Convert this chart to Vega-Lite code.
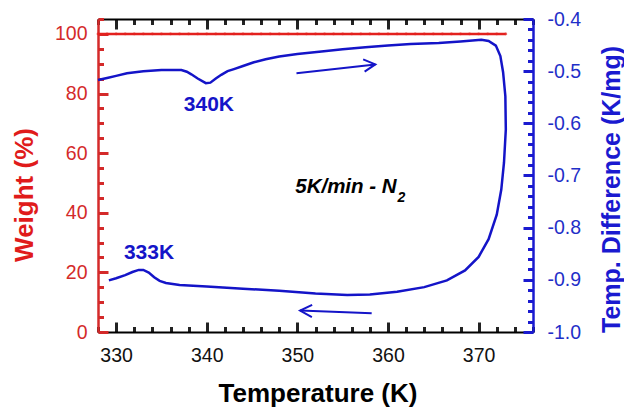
{
  "$schema": "https://vega.github.io/schema/vega-lite/v6.json",
  "width": 435,
  "height": 313,
  "autosize": {"type": "none"},
  "padding": {"left": 98, "top": 19, "right": 91, "bottom": 76},
  "config": {
    "view": {"stroke": null},
    "axis": {"grid": false, "labelFont": "Liberation Sans", "titleFont": "Liberation Sans", "labelOverlap": false, "labelFlush": false},
    "text": {"font": "Liberation Sans"}
  },
  "datasets": {
    "weight": [
      {"T": 328, "w": 100}, {"T": 329, "w": 100}, {"T": 330, "w": 100}, {"T": 331, "w": 100}, {"T": 332, "w": 100},
      {"T": 333, "w": 100}, {"T": 334, "w": 100}, {"T": 335, "w": 100}, {"T": 336, "w": 100}, {"T": 337, "w": 100},
      {"T": 338, "w": 100}, {"T": 339, "w": 100}, {"T": 340, "w": 100}, {"T": 341, "w": 100}, {"T": 342, "w": 100},
      {"T": 343, "w": 100}, {"T": 344, "w": 100}, {"T": 345, "w": 100}, {"T": 346, "w": 100}, {"T": 347, "w": 100},
      {"T": 348, "w": 100}, {"T": 349, "w": 100}, {"T": 350, "w": 100}, {"T": 351, "w": 100}, {"T": 352, "w": 100},
      {"T": 353, "w": 100}, {"T": 354, "w": 100}, {"T": 355, "w": 100}, {"T": 356, "w": 100}, {"T": 357, "w": 100},
      {"T": 358, "w": 100}, {"T": 359, "w": 100}, {"T": 360, "w": 100}, {"T": 361, "w": 100}, {"T": 362, "w": 100},
      {"T": 363, "w": 100}, {"T": 364, "w": 100}, {"T": 365, "w": 100}, {"T": 366, "w": 100}, {"T": 367, "w": 100},
      {"T": 368, "w": 100}, {"T": 369, "w": 100}, {"T": 370, "w": 100}, {"T": 371, "w": 100}, {"T": 372, "w": 100},
      {"T": 373, "w": 100}
    ],
    "dtg": [
      {"i": 1, "T": 328.0, "d": -0.517}, {"i": 2, "T": 329.0, "d": -0.513}, {"i": 3, "T": 330.0, "d": -0.509},
      {"i": 4, "T": 331.2, "d": -0.504}, {"i": 5, "T": 333.0, "d": -0.500}, {"i": 6, "T": 335.0, "d": -0.498},
      {"i": 7, "T": 337.2, "d": -0.498}, {"i": 8, "T": 337.8, "d": -0.501}, {"i": 9, "T": 338.3, "d": -0.506},
      {"i": 10, "T": 339.0, "d": -0.514}, {"i": 11, "T": 339.9, "d": -0.523}, {"i": 12, "T": 340.4, "d": -0.522},
      {"i": 13, "T": 341.0, "d": -0.514}, {"i": 14, "T": 341.6, "d": -0.507}, {"i": 15, "T": 342.3, "d": -0.500},
      {"i": 16, "T": 343.0, "d": -0.496}, {"i": 17, "T": 344.0, "d": -0.490}, {"i": 18, "T": 345.2, "d": -0.483},
      {"i": 19, "T": 346.5, "d": -0.477}, {"i": 20, "T": 348.0, "d": -0.472}, {"i": 21, "T": 350.0, "d": -0.467},
      {"i": 22, "T": 352.4, "d": -0.463}, {"i": 23, "T": 355.0, "d": -0.458}, {"i": 24, "T": 357.5, "d": -0.454},
      {"i": 25, "T": 360.0, "d": -0.451}, {"i": 26, "T": 362.5, "d": -0.448}, {"i": 27, "T": 365.6, "d": -0.446},
      {"i": 28, "T": 368.0, "d": -0.443}, {"i": 29, "T": 370.3, "d": -0.440}, {"i": 30, "T": 371.1, "d": -0.442},
      {"i": 31, "T": 371.9, "d": -0.451}, {"i": 32, "T": 372.4, "d": -0.471}, {"i": 33, "T": 372.7, "d": -0.502},
      {"i": 34, "T": 372.95, "d": -0.548}, {"i": 35, "T": 373.0, "d": -0.612}, {"i": 36, "T": 372.8, "d": -0.675},
      {"i": 37, "T": 372.5, "d": -0.727}, {"i": 38, "T": 372.0, "d": -0.775}, {"i": 39, "T": 371.1, "d": -0.822},
      {"i": 40, "T": 370.0, "d": -0.856}, {"i": 41, "T": 368.5, "d": -0.882}, {"i": 42, "T": 366.5, "d": -0.901},
      {"i": 43, "T": 364.0, "d": -0.914}, {"i": 44, "T": 361.0, "d": -0.923}, {"i": 45, "T": 358.0, "d": -0.928},
      {"i": 46, "T": 355.5, "d": -0.929}, {"i": 47, "T": 352.0, "d": -0.926}, {"i": 48, "T": 348.0, "d": -0.921},
      {"i": 49, "T": 344.0, "d": -0.917}, {"i": 50, "T": 340.0, "d": -0.913}, {"i": 51, "T": 337.0, "d": -0.910},
      {"i": 52, "T": 335.5, "d": -0.906}, {"i": 53, "T": 334.8, "d": -0.902}, {"i": 54, "T": 334.2, "d": -0.895},
      {"i": 55, "T": 333.6, "d": -0.886}, {"i": 56, "T": 333.0, "d": -0.881}, {"i": 57, "T": 332.5, "d": -0.881},
      {"i": 58, "T": 331.8, "d": -0.885}, {"i": 59, "T": 331.0, "d": -0.891}, {"i": 60, "T": 330.0, "d": -0.897},
      {"i": 61, "T": 329.2, "d": -0.901}
    ],
    "arrows": [
      {"part": "hs", "o": 1, "T": 349.9, "d": -0.504}, {"part": "hs", "o": 2, "T": 358.6, "d": -0.487},
      {"part": "hh", "o": 1, "T": 357.26, "d": -0.4775}, {"part": "hh", "o": 2, "T": 358.6, "d": -0.487}, {"part": "hh", "o": 3, "T": 357.42, "d": -0.5008},
      {"part": "cs", "o": 1, "T": 358.2, "d": -0.964}, {"part": "cs", "o": 2, "T": 350.3, "d": -0.959},
      {"part": "ch", "o": 1, "T": 351.63, "d": -0.948}, {"part": "ch", "o": 2, "T": 350.3, "d": -0.959}, {"part": "ch", "o": 3, "T": 351.6, "d": -0.9715}
    ],
    "peaks": [
      {"T": 340.24, "d": -0.5648, "label": "340K"},
      {"T": 333.63, "d": -0.8494, "label": "333K"}
    ],
    "note": [{"T": 360.95, "d": -0.7225, "label": "5K/min - N"}],
    "sub": [{"T": 361.06, "d": -0.7429, "label": "2"}]
  },
  "layer": [
    {
      "data": {"name": "weight"},
      "mark": {"type": "line", "color": "#e3211e", "strokeWidth": 2.5},
      "encoding": {
        "x": {"field": "T", "type": "quantitative", "scale": {"domain": [328, 376], "nice": false, "zero": false},
          "axis": {"orient": "bottom", "values": [328, 330, 332, 334, 336, 338, 340, 342, 344, 346, 348, 350, 352, 354, 356, 358, 360, 362, 364, 366, 368, 370, 372, 374, 376],
            "labelExpr": "datum.value % 10 === 0 ? datum.label : ''",
            "ticks": true,
            "tickSize": {"condition": {"test": "datum.value % 10 === 0", "value": -10}, "value": -5.5},
            "tickWidth": 3, "tickColor": "#222222", "domainColor": "#000000", "domainWidth": 2, "labelFontSize": 19.5, "labelColor": "#111111", "labelPadding": 24.5,
            "title": "Temperature (K)", "titleFontSize": 26, "titleFontWeight": "bold", "titleColor": "#000000", "titleBaseline": "alphabetic", "titleY": 69.7, "titleX": 219.5}},
        "y": {"field": "w", "type": "quantitative", "scale": {"domain": [0, 105], "nice": false, "zero": false},
          "axis": {"orient": "left", "values": [0, 5, 10, 15, 20, 25, 30, 35, 40, 45, 50, 55, 60, 65, 70, 75, 80, 85, 90, 95, 100, 105],
            "labelExpr": "datum.value % 20 === 0 ? datum.label : ''",
            "ticks": true,
            "tickSize": {"condition": {"test": "datum.value % 20 === 0", "value": -10}, "value": -5.5},
            "tickWidth": 3, "tickColor": "#d42a2a", "domainColor": "#d42a2a", "domainWidth": 2.5, "labelFontSize": 19.5, "labelColor": "#d42a2a", "labelPadding": 21,
            "title": "Weight (%)", "titleFontSize": 26, "titleFontWeight": "bold", "titleColor": "#e01b1b", "titleAngle": 270, "titleX": -74, "titleY": 175.5, "titleBaseline": "middle", "titleAlign": "center"}}
      }
    },
    {
      "data": {"name": "weight"},
      "mark": {"type": "point", "filled": true, "color": "#e3211e", "size": 8},
      "encoding": {
        "x": {"field": "T", "type": "quantitative", "scale": {"domain": [328, 376], "nice": false, "zero": false}, "axis": null},
        "y": {"field": "w", "type": "quantitative", "scale": {"domain": [0, 105], "nice": false, "zero": false}, "axis": null}
      }
    },
    {
      "data": {"name": "dtg"},
      "mark": {"type": "line", "color": "#1414c8", "strokeWidth": 2.5},
      "encoding": {
        "x": {"field": "T", "type": "quantitative", "scale": {"domain": [328, 376], "nice": false, "zero": false},
          "axis": {"orient": "top", "values": [328, 330, 332, 334, 336, 338, 340, 342, 344, 346, 348, 350, 352, 354, 356, 358, 360, 362, 364, 366, 368, 370, 372, 374, 376],
            "ticks": true,
            "tickSize": {"condition": {"test": "datum.value % 10 === 0", "value": -10}, "value": -5.5},
            "tickWidth": 3, "tickColor": "#222222", "domainColor": "#000000", "domainWidth": 2, "labels": false, "title": null}},
        "y": {"field": "d", "type": "quantitative", "scale": {"domain": [-1.0, -0.4], "nice": false, "zero": false},
          "axis": {"orient": "right", "values": [-1.0, -0.98, -0.96, -0.94, -0.92, -0.9, -0.88, -0.86, -0.84, -0.82, -0.8, -0.78, -0.76, -0.74, -0.72, -0.7, -0.68, -0.66, -0.64, -0.62, -0.6, -0.58, -0.56, -0.54, -0.52, -0.5, -0.48, -0.46, -0.44, -0.42, -0.4],
            "labelExpr": "abs(datum.value * 10 - round(datum.value * 10)) < 0.001 ? '-' + format(abs(datum.value), '.1f') : ''",
            "ticks": true,
            "tickSize": {"condition": {"test": "abs(datum.value * 10 - round(datum.value * 10)) < 0.001", "value": -10}, "value": -5.5},
            "tickWidth": 3, "tickColor": "#1a1ad0", "domainColor": "#1a1ad0", "domainWidth": 2.5, "labelFontSize": 19.5, "labelColor": "#1f2fc8", "labelPadding": 24,
            "title": "Temp. Difference (K/mg)", "titleFontSize": 25, "titleFontWeight": "bold", "titleColor": "#1a1ad0", "titleAngle": 270, "titleX": 78, "titleY": 170, "titleBaseline": "middle", "titleAlign": "center"}},
        "order": {"field": "i", "type": "quantitative"}
      }
    },
    {
      "data": {"name": "arrows"},
      "mark": {"type": "line", "color": "#1414c8", "strokeWidth": 2},
      "encoding": {
        "x": {"field": "T", "type": "quantitative", "scale": {"domain": [328, 376], "nice": false, "zero": false}, "axis": null},
        "y": {"field": "d", "type": "quantitative", "scale": {"domain": [-1.0, -0.4], "nice": false, "zero": false}, "axis": null},
        "detail": {"field": "part"},
        "order": {"field": "o", "type": "quantitative"}
      }
    },
    {
      "data": {"name": "peaks"},
      "mark": {"type": "text", "color": "#1414c8", "fontSize": 21, "fontWeight": "bold", "align": "center", "baseline": "middle"},
      "encoding": {
        "x": {"field": "T", "type": "quantitative", "scale": {"domain": [328, 376], "nice": false, "zero": false}, "axis": null},
        "y": {"field": "d", "type": "quantitative", "scale": {"domain": [-1.0, -0.4], "nice": false, "zero": false}, "axis": null},
        "text": {"field": "label"}
      }
    },
    {
      "data": {"name": "note"},
      "mark": {"type": "text", "color": "#000000", "fontSize": 20.5, "fontWeight": "bold", "fontStyle": "italic", "align": "right", "baseline": "middle"},
      "encoding": {
        "x": {"field": "T", "type": "quantitative", "scale": {"domain": [328, 376], "nice": false, "zero": false}, "axis": null},
        "y": {"field": "d", "type": "quantitative", "scale": {"domain": [-1.0, -0.4], "nice": false, "zero": false}, "axis": null},
        "text": {"field": "label"}
      }
    },
    {
      "data": {"name": "sub"},
      "mark": {"type": "text", "color": "#000000", "fontSize": 14, "fontWeight": "bold", "fontStyle": "italic", "align": "left", "baseline": "middle"},
      "encoding": {
        "x": {"field": "T", "type": "quantitative", "scale": {"domain": [328, 376], "nice": false, "zero": false}, "axis": null},
        "y": {"field": "d", "type": "quantitative", "scale": {"domain": [-1.0, -0.4], "nice": false, "zero": false}, "axis": null},
        "text": {"field": "label"}
      }
    }
  ],
  "resolve": {"scale": {"y": "independent"}, "axis": {"x": "independent", "y": "independent"}}
}
